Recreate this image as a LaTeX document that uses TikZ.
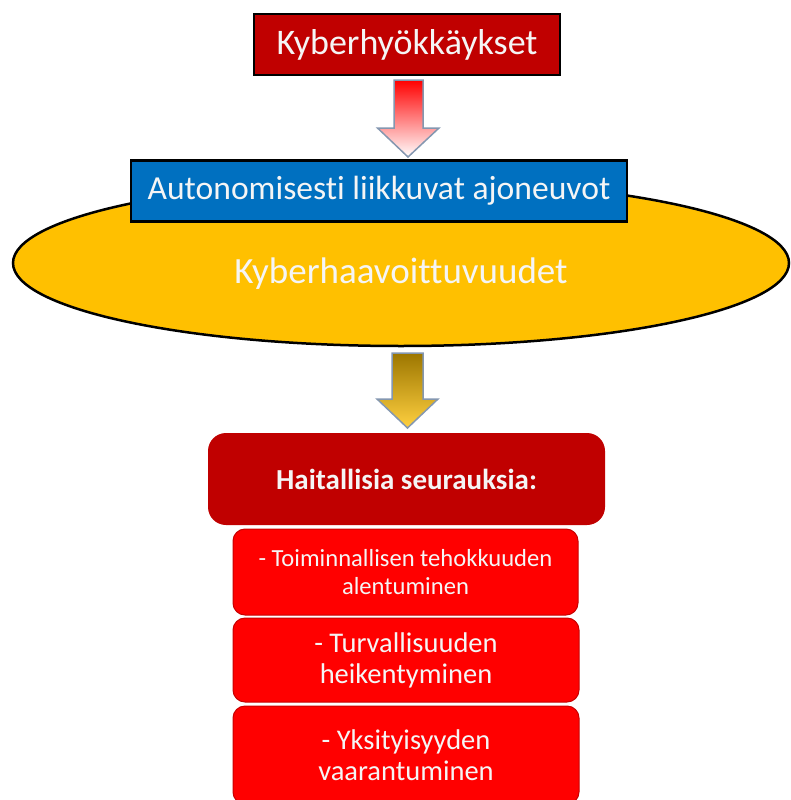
\documentclass[tikz,border=0pt]{standalone}
\usepackage{fontspec}
\setmainfont{Carlito}[Ligatures={NoCommon}]
\usetikzlibrary{shapes.geometric}
\definecolor{darkred}{RGB}{192,0,0}
\definecolor{brightred}{RGB}{255,0,0}
\definecolor{blueb}{RGB}{0,112,192}
\definecolor{goldy}{RGB}{255,192,0}
\definecolor{arrowline}{RGB}{132,151,176}
\definecolor{txtw}{RGB}{245,245,245}
\definecolor{goldtop}{RGB}{156,118,0}
\definecolor{goldbot}{RGB}{255,208,64}
\definecolor{redline}{RGB}{200,0,0}
\tikzset{
  x=1pt, y=-1pt,
  hdrbox/.style={draw=black, line width=2.5pt, inner sep=0pt, text=txtw, align=center},
  resbox/.style={fill=brightred, draw=redline, line width=1pt, rounded corners=12pt, inner sep=0pt, text=txtw, align=center},
  blockarrow/.style={draw=arrowline, line width=1.5pt, line join=miter},
}
\begin{document}
\begin{tikzpicture}
\useasboundingbox (0,0) rectangle (791,800);
% top box
\node[hdrbox, fill=darkred, minimum width=306pt, minimum height=61pt,
  font=\fontsize{36}{42}\selectfont] (att) at (407,44.5) {Kyberhyökkäykset};
% ellipse
\node[ellipse, draw=black, fill=goldy, line width=2.5pt, minimum width=776pt, minimum height=166pt, inner sep=0pt] (ell) at (401,263) {};
\node[text=txtw, font=\fontsize{37}{42}\selectfont, inner sep=0pt] (vuln) at (401,274) {Kyberhaavoittuvuudet};
% blue box
\node[hdrbox, fill=blueb, minimum width=496pt, minimum height=61pt,
  font=\fontsize{33.6}{40}\selectfont] (auto) at (379,191) {Autonomisesti liikkuvat ajoneuvot};
% arrow 1
\coordinate (a1) at (408.5,80);
\path[blockarrow, top color=brightred, bottom color=white]
  (a1) ++(-14.5,0) -- ++(0,48) -- ++(-16.5,0) -- (408,157) -- (439,128) -- ++(-16,0) -- (423,80) -- cycle;
% arrow 2
\coordinate (a2) at (407.5,353);
\path[blockarrow, top color=goldtop, bottom color=goldbot]
  (a2) ++(-15.5,0) -- ++(0,46) -- ++(-15,0) -- (407.5,428) -- (438,399) -- ++(-15,0) -- (423,353) -- cycle;
% consequences
\node[fill=darkred, rounded corners=18pt, minimum width=397pt, minimum height=92pt, inner sep=0pt, text=txtw,
  font=\fontsize{29}{34}\selectfont\bfseries] (harm) at (406.5,479) {Haitallisia seurauksia:};
\node[resbox, minimum width=345pt, minimum height=86pt,
  font=\fontsize{24.6}{28}\selectfont] (c1) at (405.5,572) {- Toiminnallisen tehokkuuden\\alentuminen};
\node[resbox, minimum width=346pt, minimum height=84pt,
  font=\fontsize{28.5}{31}\selectfont] (c2) at (406,660) {- Turvallisuuden\\heikentyminen};
\node[resbox, minimum width=346pt, minimum height=98pt,
  font=\fontsize{28.5}{31}\selectfont] (c3) at (406,755) {- Yksityisyyden\\vaarantuminen};
\end{tikzpicture}
\end{document}
